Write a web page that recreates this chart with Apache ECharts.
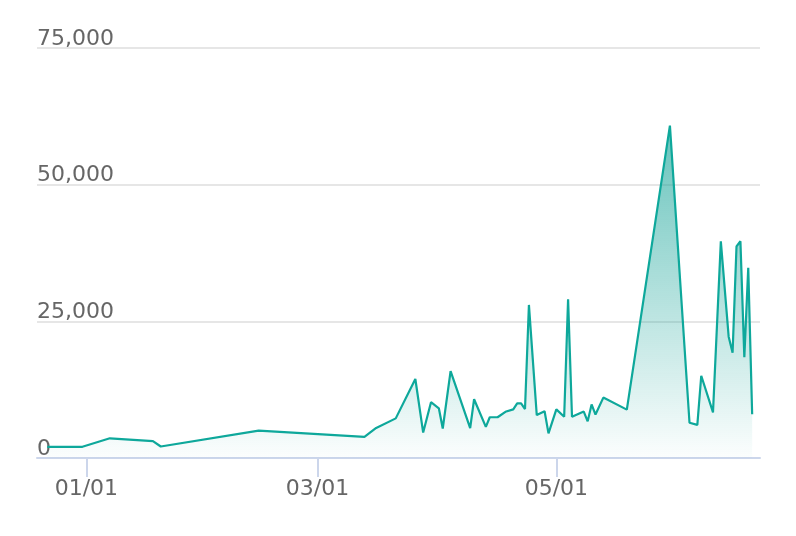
<!DOCTYPE html>
<html>
<head>
<meta charset="utf-8">
<script src="https://cdn.jsdelivr.net/npm/echarts@6/dist/echarts.min.js"></script>
<style>
  html, body { margin: 0; padding: 0; background: #ffffff; }
  #chart { width: 796px; height: 536px; }
</style>
</head>
<body>
<div id="chart"></div>
<script>
// data
const dates = [
  "2020-12-22", "2020-12-31", "2021-01-07", "2021-01-18", "2021-01-20", "2021-02-14",
  "2021-03-13", "2021-03-16", "2021-03-21", "2021-03-26", "2021-03-28", "2021-03-30",
  "2021-04-01", "2021-04-02", "2021-04-04", "2021-04-09", "2021-04-10", "2021-04-13",
  "2021-04-14", "2021-04-16", "2021-04-18", "2021-04-20", "2021-04-21", "2021-04-22",
  "2021-04-23", "2021-04-24", "2021-04-26", "2021-04-28", "2021-04-29", "2021-05-01",
  "2021-05-03", "2021-05-04", "2021-05-05", "2021-05-08", "2021-05-09", "2021-05-10",
  "2021-05-11", "2021-05-13", "2021-05-19", "2021-05-30", "2021-06-04", "2021-06-06",
  "2021-06-07", "2021-06-10", "2021-06-12", "2021-06-14", "2021-06-15", "2021-06-16",
  "2021-06-17", "2021-06-18", "2021-06-19", "2021-06-20"
];
const values = [
  2050, 2050, 3600, 3100, 2100, 5000,
  3850, 5500, 7250, 14450, 4650, 10200,
  9100, 5400, 15900, 5450, 10750, 5700,
  7450, 7450, 8450, 8900, 10000, 10000,
  8950, 28000, 7850, 8550, 4500, 8900,
  7550, 29050, 7550, 8500, 6700, 9800,
  7950, 11050, 8850, 60800, 6450, 6050,
  15050, 8350, 39650, 22200, 19250, 38700,
  39650, 18450, 34800, 8000
];
const tickDates = ["2021-01-01", "2021-03-01", "2021-05-01"];
const yMax = 75000;
const yStep = 25000;

const DAY = 86400000;
function ts(s) {
  const [y, m, d] = s.split("-").map(Number);
  return new Date(y, m - 1, d).getTime();
}
function fmtDay(v) {
  const dt = new Date(v);
  const p = (n) => String(n).padStart(2, "0");
  return `${p(dt.getMonth() + 1)}/${p(dt.getDate())}`;
}

const lineColor = "#0ea89b";
const tickValues = tickDates.map(ts);
const origin = ts("2021-01-01");

const chart = echarts.init(document.getElementById("chart"));
chart.setOption({
  animation: false,
  grid: { left: 37, right: 36, top: 48, bottom: 78, containLabel: false },
  xAxis: {
    type: "value",
    min: origin - 12.6 * DAY,
    max: origin + 172.0 * DAY,
    axisLine: { lineStyle: { color: "#ccd6eb", width: 2 } },
    axisTick: { show: true, length: 19, customValues: tickValues, lineStyle: { color: "#ccd6eb", width: 2 } },
    axisLabel: {
      customValues: tickValues,
      formatter: fmtDay,
      color: "#666666",
      fontFamily: "DejaVu Sans",
      fontSize: 22,
      margin: 20
    },
    splitLine: { show: false }
  },
  yAxis: {
    type: "value",
    min: 0,
    max: yMax,
    interval: yStep,
    axisLine: { show: false },
    axisTick: { show: false },
    axisLabel: {
      inside: true,
      margin: 0,
      verticalAlign: "bottom",
      lineHeight: 18,
      color: "#666666",
      fontFamily: "DejaVu Sans",
      fontSize: 22
    },
    splitLine: { lineStyle: { color: "#e6e6e6", width: 2 } }
  },
  series: [{
    type: "line",
    showSymbol: false,
    data: dates.map((d, i) => [ts(d), values[i]]),
    lineStyle: { color: lineColor, width: 2.2 },
    itemStyle: { color: lineColor },
    areaStyle: {
      color: new echarts.graphic.LinearGradient(0, 0, 0, 1, [
        { offset: 0, color: "rgba(14,160,148,0.9)" },
        { offset: 1, color: "rgba(14,160,148,0.02)" }
      ])
    }
  }]
});
</script>
</body>
</html>
